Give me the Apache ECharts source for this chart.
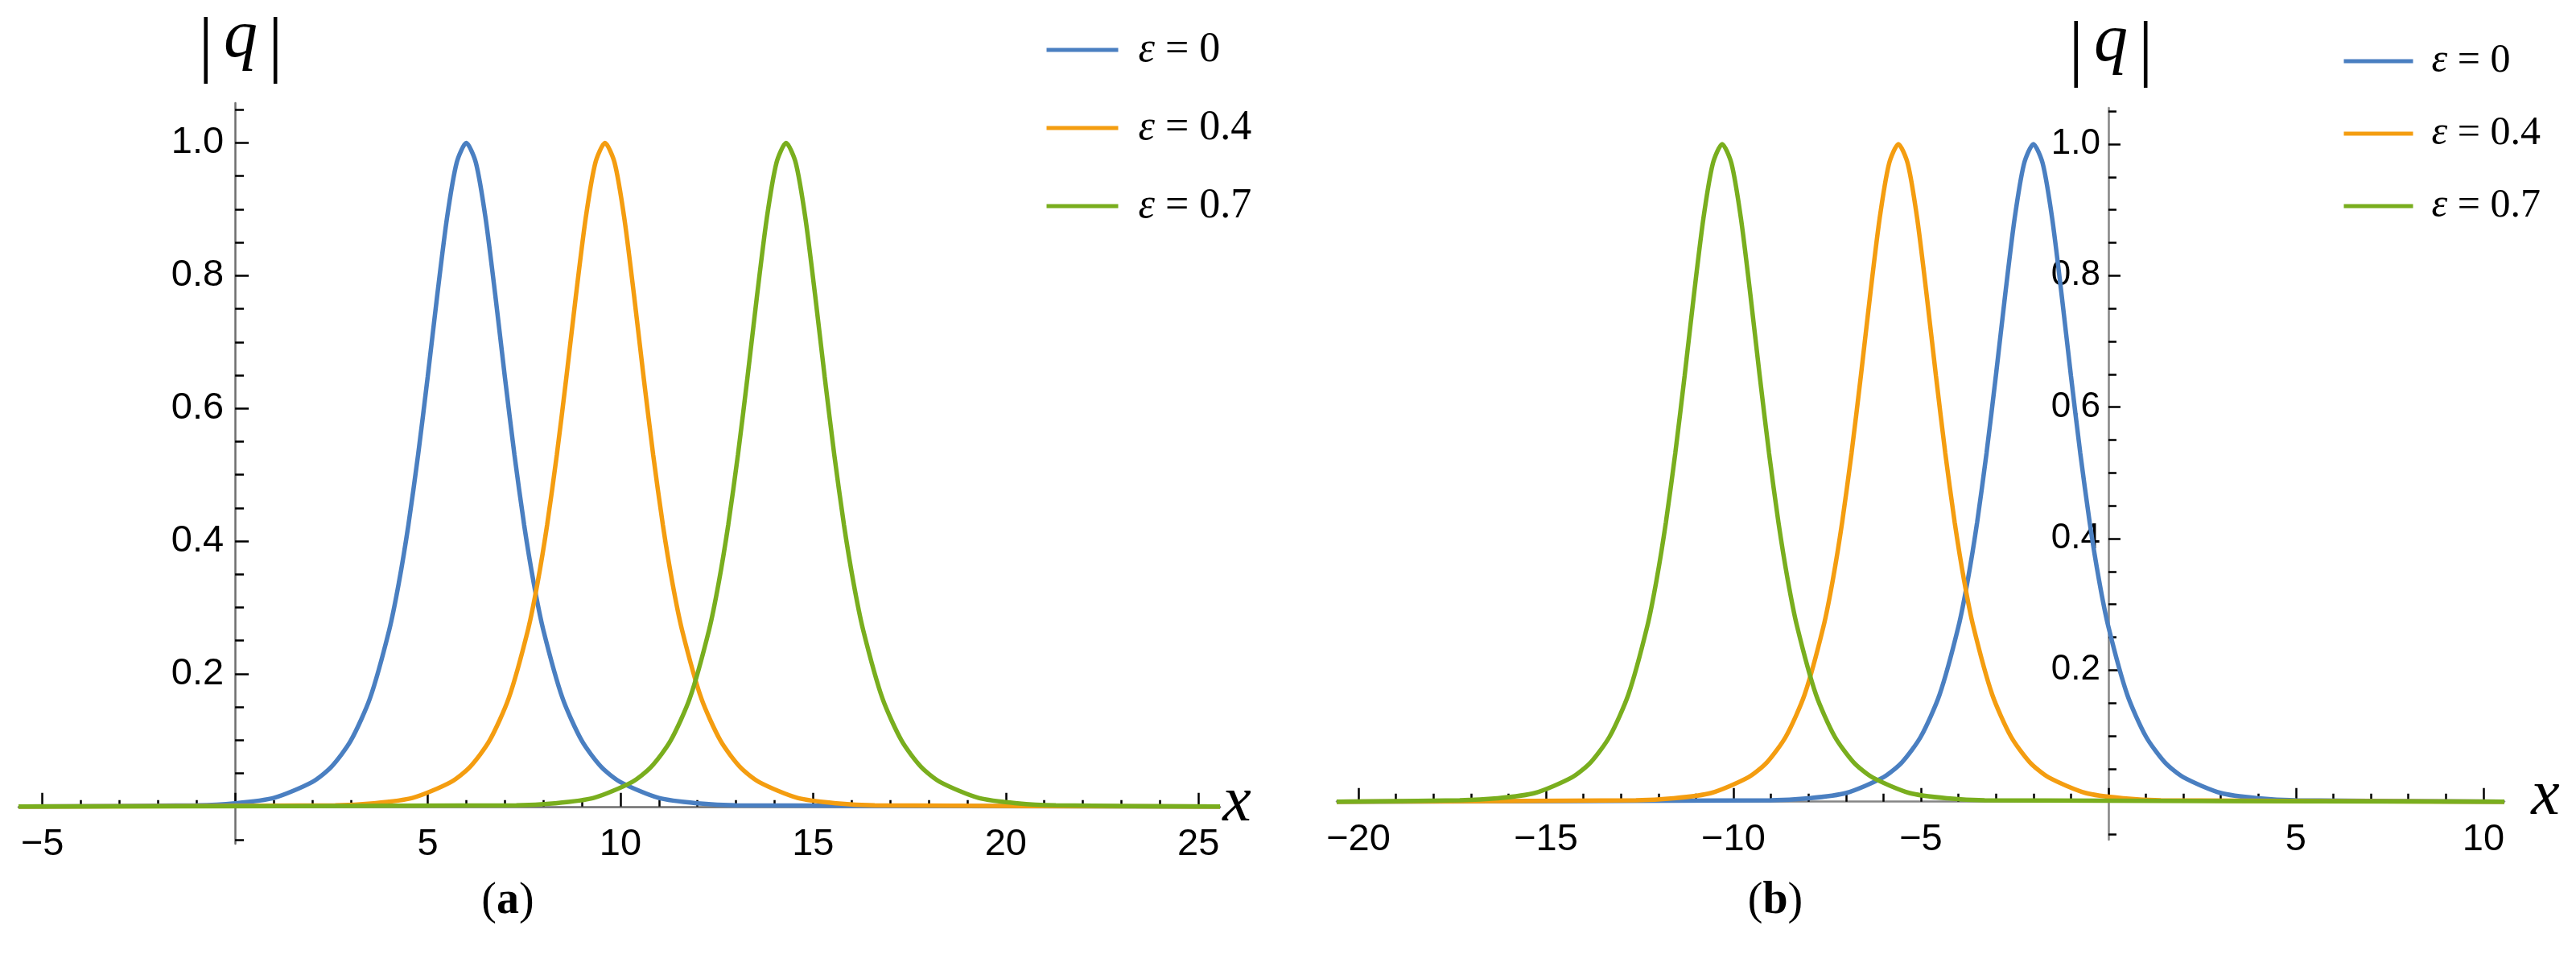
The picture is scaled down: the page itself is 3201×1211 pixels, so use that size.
<!DOCTYPE html>
<html><head><meta charset="utf-8">
<script src="https://cdn.jsdelivr.net/npm/echarts@6/dist/echarts.min.js"></script>
<style>html,body{margin:0;padding:0;background:#fff}#c{width:3201px;height:1211px}</style>
</head><body><div id="c"></div><script>
// ---- data ----
const seriesNames = ['ε = 0', 'ε = 0.4', 'ε = 0.7'];
// |q| levels along each hump (same shape for every curve)
const yLevels = [0, 0.002, 0.005, 0.013, 0.037, 0.060, 0.099, 0.163, 0.266, 0.337, 0.425, 0.530, 0.648, 0.772, 0.887, 0.970, 1.000,
                 0.970, 0.887, 0.772, 0.648, 0.530, 0.425, 0.337, 0.266, 0.163, 0.099, 0.060, 0.037, 0.013, 0.005, 0.002, 0];
// panel (a)
const xBlueA   = [-5.62, -1, 0, 1, 2, 2.5, 3, 3.5, 4, 4.25, 4.5, 4.75, 5, 5.25, 5.5, 5.75, 6, 6.25, 6.5, 6.75, 7, 7.25, 7.5, 7.75, 8, 8.5, 9, 9.5, 10, 11, 12, 13, 25.56];
const xOrangeA = [-5.62, 2.6, 3.6, 4.6, 5.6, 6.1, 6.6, 7.1, 7.6, 7.85, 8.1, 8.35, 8.6, 8.85, 9.1, 9.35, 9.6, 9.85, 10.1, 10.35, 10.6, 10.85, 11.1, 11.35, 11.6, 12.1, 12.6, 13.1, 13.6, 14.6, 15.6, 16.6, 25.56];
const xGreenA  = [-5.62, 7.3, 8.3, 9.3, 10.3, 10.8, 11.3, 11.8, 12.3, 12.55, 12.8, 13.05, 13.3, 13.55, 13.8, 14.05, 14.3, 14.55, 14.8, 15.05, 15.3, 15.55, 15.8, 16.05, 16.3, 16.8, 17.3, 17.8, 18.3, 19.3, 20.3, 21.3, 25.56];
// panel (b)
const xBlueB   = [-20.58, -9, -8, -7, -6, -5.5, -5, -4.5, -4, -3.75, -3.5, -3.25, -3, -2.75, -2.5, -2.25, -2, -1.75, -1.5, -1.25, -1, -0.75, -0.5, -0.25, 0, 0.5, 1, 1.5, 2, 3, 4, 5, 10.56];
const xOrangeB = [-20.58, -12.6, -11.6, -10.6, -9.6, -9.1, -8.6, -8.1, -7.6, -7.35, -7.1, -6.85, -6.6, -6.35, -6.1, -5.85, -5.6, -5.35, -5.1, -4.85, -4.6, -4.35, -4.1, -3.85, -3.6, -3.1, -2.6, -2.1, -1.6, -0.6, 0.4, 1.4, 10.56];
const xGreenB  = [-20.58, -17.3, -16.3, -15.3, -14.3, -13.8, -13.3, -12.8, -12.3, -12.05, -11.8, -11.55, -11.3, -11.05, -10.8, -10.55, -10.3, -10.05, -9.8, -9.55, -9.3, -9.05, -8.8, -8.55, -8.3, -7.8, -7.3, -6.8, -6.3, -5.3, -4.3, -3.3, 10.56];
// ticks
const xMajorA  = [-5, 0, 5, 10, 15, 20, 25];
const xLabelsA = [-5, 5, 10, 15, 20, 25];
const xMinorA  = [-4, -3, -2, -1, 1, 2, 3, 4, 6, 7, 8, 9, 11, 12, 13, 14, 16, 17, 18, 19, 21, 22, 23, 24];
const xMajorB  = [-20, -15, -10, -5, 0, 5, 10];
const xLabelsB = [-20, -15, -10, -5, 5, 10];
const xMinorB  = [-19, -18, -17, -16, -14, -13, -12, -11, -9, -8, -7, -6, -4, -3, -2, -1, 1, 2, 3, 4, 6, 7, 8, 9];
const yMajor   = [0, 0.2, 0.4, 0.6, 0.8, 1.0];
const yLabels  = [0.2, 0.4, 0.6, 0.8, 1.0];
const yMinor   = [-0.05, 0.05, 0.1, 0.15, 0.25, 0.3, 0.35, 0.45, 0.5, 0.55, 0.65, 0.7, 0.75, 0.85, 0.9, 0.95, 1.05];

// ---- styling / layout ----
const colors = ['#4a7fc1', '#f49d10', '#79ae1e'];
const tickFont = "'Liberation Sans Narrow', 'Arial Narrow', 'Liberation Sans', Arial, sans-serif";
const serif = "'Liberation Serif', 'Times New Roman', serif";
const minus = v => (v < 0 ? '\u2212' + Math.abs(v) : String(v));

// panel a: x -5.62..25.56 over 23..1516 ; y -0.056..1.06 over 1048..128
const A = { xMin: -5.62, xMax: 25.56, yMin: -0.056, yMax: 1.06, left: 23, top: 128, width: 1493, height: 920 };
// panel b: x -20.58..10.56 over 1661..3112 ; y -0.058..1.055 over 1043..134
const B = { xMin: -20.58, xMax: 10.56, yMin: -0.058, yMax: 1.055, left: 1661, top: 134, width: 1451, height: 909 };

function gridsFor(P) {
  const xZero = P.left + (0 - P.xMin) / (P.xMax - P.xMin) * P.width;
  const yZeroH = (P.yMax - 0) / (P.yMax - P.yMin) * P.height;
  const g1 = { left: P.left, top: P.top, width: P.width, height: yZeroH, outerBoundsMode: 'none' };
  const g2 = { left: xZero, top: P.top, width: P.left + P.width - xZero, height: P.height, outerBoundsMode: 'none' };
  return [g1, g1, g2, g2];
}
const hidden = (gridIndex, min, max) => ({ type: 'value', gridIndex, min, max, show: false });

function xAxesFor(P, g, major, labels, minor, majLen, minLen, lineColor, fs) {
  return [
    { type: 'value', gridIndex: g, min: P.xMin, max: P.xMax, position: 'bottom',
      axisLine: { onZero: false, lineStyle: { color: lineColor, width: 2.5 } },
      axisTick: { show: true, inside: true, length: majLen, customValues: major, lineStyle: { color: '#000', width: 2.5 } },
      axisLabel: { customValues: labels, formatter: minus, fontFamily: tickFont, fontSize: fs, color: '#000', margin: 24 },
      splitLine: { show: false } },
    { type: 'value', gridIndex: g + 1, min: P.xMin, max: P.xMax, position: 'bottom',
      axisLine: { show: false, onZero: false },
      axisTick: { show: true, inside: true, length: minLen, customValues: minor, lineStyle: { color: '#000', width: 2.5 } },
      axisLabel: { show: false }, splitLine: { show: false } },
    hidden(g + 2, 0, P.xMax),
    hidden(g + 3, 0, P.xMax)
  ];
}
function yAxesFor(P, g, majLen, minLen, lineColor, margin, fs) {
  return [
    hidden(g, 0, P.yMax),
    hidden(g + 1, 0, P.yMax),
    { type: 'value', gridIndex: g + 2, min: P.yMin, max: P.yMax, position: 'left',
      axisLine: { onZero: false, lineStyle: { color: lineColor, width: 2.5 } },
      axisTick: { show: true, inside: true, length: majLen, customValues: yMajor, lineStyle: { color: '#000', width: 2.5 } },
      axisLabel: { customValues: yLabels, formatter: v => v.toFixed(1), fontFamily: tickFont, fontSize: fs, color: '#000', margin },
      splitLine: { show: false } },
    { type: 'value', gridIndex: g + 3, min: P.yMin, max: P.yMax, position: 'left',
      axisLine: { show: false, onZero: false },
      axisTick: { show: true, inside: true, length: minLen, customValues: yMinor, lineStyle: { color: '#000', width: 2.5 } },
      axisLabel: { show: false }, splitLine: { show: false } }
  ];
}
function line(name, xs, color, axisIndex) {
  return { type: 'line', name, xAxisIndex: axisIndex, yAxisIndex: axisIndex,
    data: xs.map((x, i) => [x, yLevels[i]]),
    symbol: 'none', smooth: 0.25, clip: false, z: 3,
    lineStyle: { width: 5.5, color }, itemStyle: { color } };
}
function legend(left, top, w, h, gap, fs, pad) {
  return { left, top, orient: 'vertical', padding: 0, itemWidth: w, itemHeight: h, itemGap: gap,
    selectedMode: false, data: seriesNames,
    lineStyle: { width: 5 }, itemStyle: { opacity: 0, borderWidth: 0 },
    formatter: n => '{e|ε} = ' + n.split('= ')[1],
    textStyle: { fontFamily: serif, fontSize: fs, color: '#000',
      rich: { e: { fontFamily: serif, fontSize: fs, fontStyle: 'italic', color: '#000', padding: [0, 0, 0, pad] } } } };
}
function label(x, y, text, size, rich) {
  return { type: 'text', x, y, style: { text, fontFamily: serif, fontSize: size, fill: '#000',
    align: 'center', verticalAlign: 'middle', rich } };
}
const italic = s => ({ i: { fontStyle: 'italic', fontFamily: serif, fontSize: s } });
const absRich = {
  b: { fontFamily: serif, fontSize: 92, fill: '#000' },
  i: { fontFamily: serif, fontSize: 84, fontStyle: 'italic', fill: '#000', padding: [0, 13, 26, 13] }
};

const option = {
  backgroundColor: '#fff',
  animation: false,
  grid: [...gridsFor(A), ...gridsFor(B)],
  xAxis: [
    ...xAxesFor(A, 0, xMajorA, xLabelsA, xMinorA, 17, 8, '#6e6e6e', 47),
    ...xAxesFor(B, 4, xMajorB, xLabelsB, xMinorB, 17, 10, '#858585', 47)
  ],
  yAxis: [
    ...yAxesFor(A, 0, 17, 11, '#6e6e6e', 14, 47),
    ...yAxesFor(B, 4, 15, 10, '#858585', 10, 44)
  ],
  legend: [
    legend(1298, 36, 89, 50, 45, 52, 20),
    legend(2910, 51, 86, 46, 40, 50, 18)
  ],
  series: [
    line(seriesNames[0], xBlueA, colors[0], 0),
    line(seriesNames[1], xOrangeA, colors[1], 0),
    line(seriesNames[2], xGreenA, colors[2], 0),
    line(seriesNames[0], xBlueB, colors[0], 4),
    line(seriesNames[1], xOrangeB, colors[1], 4),
    line(seriesNames[2], xGreenB, colors[2], 4)
  ],
  graphic: [
    label(299, 61, '{b||}{i|q}{b||}', 84, absRich),
    label(2623, 66, '{b||}{i|q}{b||}', 84, absRich),
    label(1537, 998, '{i|x}', 80, italic(80)),
    label(3163, 990, '{i|x}', 80, italic(80)),
    label(631, 1120, '({b|a})', 56, { b: { fontWeight: 'bold', fontFamily: serif, fontSize: 56 } }),
    label(2206, 1120, '({b|b})', 56, { b: { fontWeight: 'bold', fontFamily: serif, fontSize: 56 } })
  ]
};
const chart = echarts.init(document.getElementById('c'), null, { renderer: 'canvas' });
chart.setOption(option);
</script></body></html>
